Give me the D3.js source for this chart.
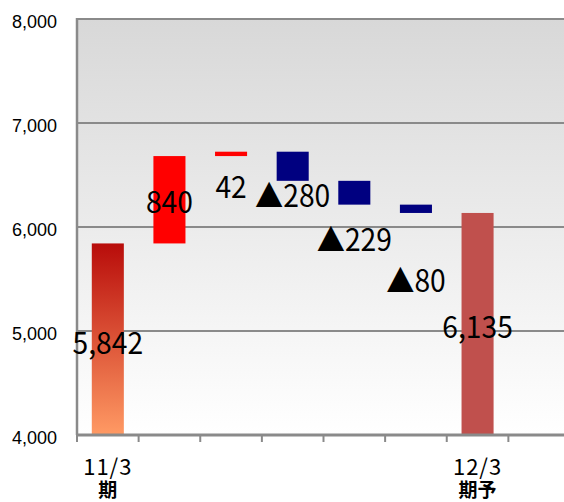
<!DOCTYPE html>
<html>
<head>
<meta charset="utf-8">
<script src="https://cdn.jsdelivr.net/npm/d3@7"></script>
<style>
  html, body { margin: 0; padding: 0; background: #fff; }
  svg { display: block; }
</style>
</head>
<body>
<script>
// Operating profit bridge: 11/3 result to 12/3 forecast
const categories = ["11/3期", "増収", "価格", "原価", "経費", "その他", "12/3期予", ""];
const tickLines1 = ["11/3", "", "", "", "", "", "12/3", ""];
const tickLines2 = ["期", "", "", "", "", "", "期予", ""];
const startValue = 5842;
const deltas = [840, 42, -280, -229, -80];
const endValue = 6135;
const valueLabels = ["5,842", "840", "42", "▲280", "▲229", "▲80", "6,135"];
const yTicks = [4000, 5000, 6000, 7000, 8000];

const W = 564, H = 502;
const margin = { left: 77, top: 19, bottom: 67 };
const plotRight = 570;
const narrow = 0.91;   // horizontal squeeze for the condensed label look

const svg = d3.select("body").append("svg")
  .attr("width", W).attr("height", H);

const x = d3.scaleBand().domain(d3.range(categories.length))
  .range([margin.left, plotRight]).padding(0);
const y = d3.scaleLinear().domain([4000, 8000])
  .range([H - margin.bottom, margin.top]);

// Build the bar segments from the running total
const bars = [];
bars.push({ i: 0, y0: 4000, y1: startValue, kind: "start" });
let run = startValue;
deltas.forEach((d, k) => {
  bars.push({ i: k + 1, y0: run, y1: run + d, kind: d >= 0 ? "up" : "down" });
  run += d;
});
bars.push({ i: 6, y0: 4000, y1: endValue, kind: "end" });

const defs = svg.append("defs");
const bg = defs.append("linearGradient").attr("id", "plotBg")
  .attr("x1", 0).attr("y1", 0).attr("x2", 0).attr("y2", 1);
bg.append("stop").attr("offset", "0%").attr("stop-color", "#d8d8d8");
bg.append("stop").attr("offset", "100%").attr("stop-color", "#ffffff");

const startGrad = defs.append("linearGradient").attr("id", "startGrad")
  .attr("x1", 0).attr("y1", 0).attr("x2", 0).attr("y2", 1);
startGrad.append("stop").attr("offset", "0%").attr("stop-color", "#b80c0a");
startGrad.append("stop").attr("offset", "100%").attr("stop-color", "#ff9a64");

// Plot area background
svg.append("rect")
  .attr("x", margin.left).attr("y", y(8000))
  .attr("width", plotRight - margin.left).attr("height", y(4000) - y(8000))
  .attr("fill", "url(#plotBg)");

// Horizontal gridlines
svg.append("g").selectAll("line").data(yTicks.filter(v => v > 4000)).join("line")
  .attr("x1", margin.left).attr("x2", plotRight)
  .attr("y1", d => y(d)).attr("y2", d => y(d))
  .attr("stroke", "#8a8a8a").attr("stroke-width", 2);

// Y tick labels
svg.append("g").selectAll("text").data(yTicks).join("text")
  .attr("x", 57).attr("y", d => y(d) + 3)
  .attr("dy", "0.36em")
  .attr("text-anchor", "end")
  .attr("font-family", "'Liberation Sans', Arial, sans-serif")
  .attr("font-size", 18)
  .attr("fill", "#000")
  .text(d => d3.format(",")(d));

const colorOf = b => b.kind === "start" ? "url(#startGrad)"
  : b.kind === "end" ? "#c0504d"
  : b.kind === "up" ? "#ff0000" : "#000080";

const barW = x.bandwidth() * 0.52;
svg.append("g").selectAll("rect").data(bars).join("rect")
  .attr("x", d => x(d.i) + (x.bandwidth() - barW) / 2)
  .attr("y", d => y(Math.max(d.y0, d.y1)))
  .attr("width", barW)
  .attr("height", d => Math.abs(y(d.y0) - y(d.y1)))
  .attr("fill", colorOf);

// Axes lines
svg.append("line")
  .attr("x1", margin.left).attr("x2", margin.left)
  .attr("y1", y(8000) - 1).attr("y2", y(4000))
  .attr("stroke", "#8a8a8a").attr("stroke-width", 2.5);
svg.append("line")
  .attr("x1", margin.left - 1).attr("x2", plotRight)
  .attr("y1", y(4000)).attr("y2", y(4000))
  .attr("stroke", "#8a8a8a").attr("stroke-width", 3);

// Category tick marks at band boundaries
svg.append("g").selectAll("line").data(d3.range(categories.length)).join("line")
  .attr("x1", d => x(d)).attr("x2", d => x(d))
  .attr("y1", y(4000)).attr("y2", y(4000) + 7)
  .attr("stroke", "#8a8a8a").attr("stroke-width", 2);

// Category labels: two lines in one text element
const catText = svg.append("g").selectAll("text")
  .data(d3.range(categories.length).filter(i => tickLines1[i])).join("text")
  .attr("text-anchor", "middle")
  .attr("font-family", "'Noto Sans CJK JP', sans-serif")
  .attr("fill", "#000");
catText.append("tspan")
  .attr("x", i => x(i) + x.bandwidth() / 2).attr("y", 475)
  .attr("font-size", 22).attr("letter-spacing", 1)
  .text(i => tickLines1[i]);
catText.append("tspan")
  .attr("x", i => x(i) + x.bandwidth() / 2).attr("y", 497)
  .attr("font-size", 19).attr("font-weight", "bold")
  .text(i => tickLines2[i]);

// Value labels, each anchored at a level on the value axis
const labelLevels = [4885, 6240, 6385, 6298, 5875, 5481, 5041];
svg.append("g").selectAll("text").data(valueLabels).join("text")
  .attr("transform", (d, i) =>
    `translate(${x(i) + x.bandwidth() / 2},${y(labelLevels[i])}) scale(${narrow},1)`)
  .attr("dy", "0.36em")
  .attr("text-anchor", "middle")
  .attr("font-family", "'Noto Sans CJK JP', sans-serif")
  .attr("font-size", 31)
  .attr("fill", "#000")
  .text(d => d);
</script>
</body>
</html>
